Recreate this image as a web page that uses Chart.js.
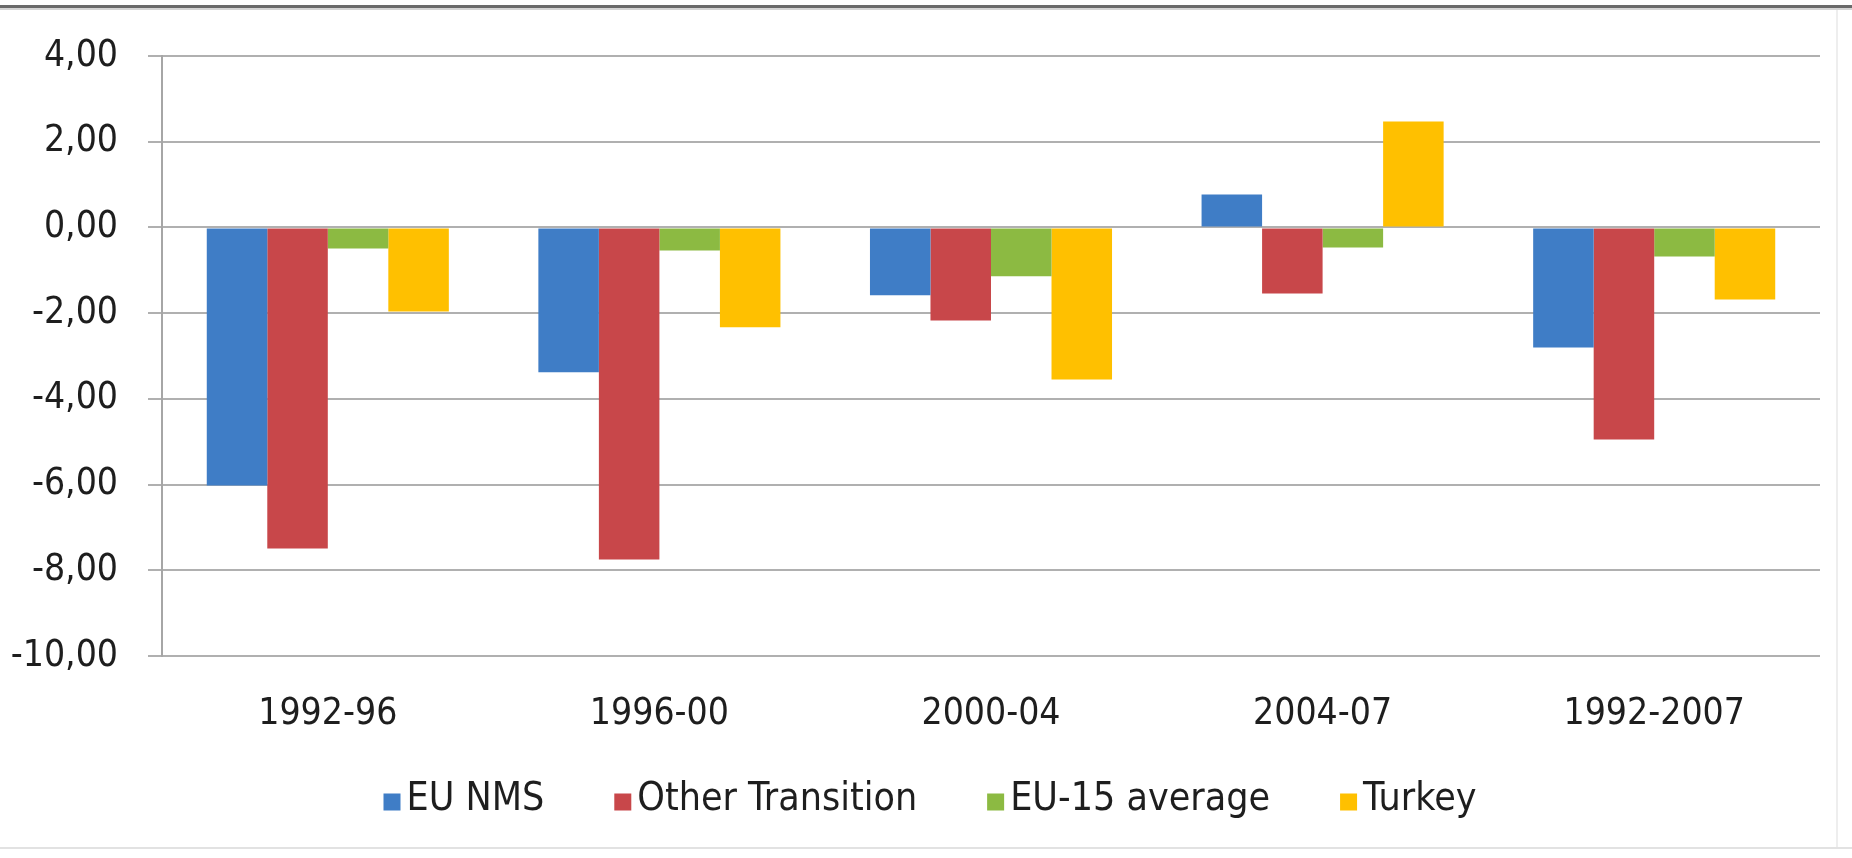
<!DOCTYPE html>
<html>
<head>
<meta charset="utf-8">
<script src="https://cdn.jsdelivr.net/npm/chart.js@4.4.1/dist/chart.umd.min.js"></script>
<style>
  html, body { margin: 0; padding: 0; background: #ffffff; }
  #wrap { position: relative; width: 1852px; height: 858px; }
  canvas { display: block; }
</style>
</head>
<body>
<div id="wrap"><canvas id="chart" width="1852" height="858"></canvas></div>
<script>
// Periods on the category axis
const periods = ['1992-96', '1996-00', '2000-04', '2004-07', '1992-2007'];

// Values per country group, one entry per period
const euNms           = [-6.02, -3.38, -1.58,  0.77, -2.80];
const otherTransition = [-7.49, -7.75, -2.17, -1.54, -4.95];
const eu15Average     = [-0.49, -0.54, -1.14, -0.47, -0.68];
const turkey          = [-1.96, -2.33, -3.55,  2.47, -1.68];

const seriesNames  = ['EU NMS', 'Other Transition', 'EU-15 average', 'Turkey'];
const seriesValues = [euNms, otherTransition, eu15Average, turkey];
const seriesColors = ['#3f7dc6', '#c8474a', '#8cba42', '#ffc000'];

// Value axis range and step
const yMin = -10;
const yMax = 4;
const yStep = 2;

const FONT_FAMILY = "'Liberation Sans Narrow', 'DejaVu Sans Condensed', 'Liberation Sans', sans-serif";
const FONT_SIZE = 37;
const LEGEND_FONT_SIZE = 39;
const TEXT_COLOR = '#1e1e1e';

const fmt = v => v.toFixed(2).replace('.', ',');

// Page frame lines and white background
const framePlugin = {
  id: 'frame',
  beforeDraw(chart) {
    const ctx = chart.ctx;
    ctx.save();
    ctx.fillStyle = '#ffffff';
    ctx.fillRect(0, 0, chart.width, chart.height);
    ctx.fillStyle = '#6a6a6a';
    ctx.fillRect(0, 5, chart.width, 3);
    ctx.fillStyle = '#d4d4d4';
    ctx.fillRect(0, 8, chart.width, 2);
    ctx.fillStyle = '#e2e2e2';
    ctx.fillRect(0, 847, chart.width, 2);
    ctx.fillStyle = '#eeeeee';
    ctx.fillRect(1836, 10, 2, 837);
    ctx.restore();
  }
};

// Legend row below the axis: small square swatch followed by its label
const legendPlugin = {
  id: 'rowLegend',
  afterDraw(chart) {
    const ctx = chart.ctx;
    const box = 17, boxGap = 6, itemGap = 70;
    const centerX = 930, centerY = 800;
    ctx.save();
    ctx.font = `${LEGEND_FONT_SIZE}px ${FONT_FAMILY}`;
    ctx.textBaseline = 'middle';
    ctx.textAlign = 'left';
    const widths = seriesNames.map(t => ctx.measureText(t).width);
    const total = widths.reduce((a, w) => a + box + boxGap + w, 0) + itemGap * (seriesNames.length - 1);
    let x = centerX - total / 2;
    chart.data.datasets.forEach((ds, i) => {
      ctx.fillStyle = ds.backgroundColor;
      ctx.fillRect(x, centerY - box / 2 + 2, box, box);
      x += box + boxGap;
      ctx.fillStyle = TEXT_COLOR;
      ctx.fillText(ds.label, x, centerY);
      x += widths[i] + itemGap;
    });
    ctx.restore();
  }
};

const datasets = seriesNames.map((name, i) => ({
  label: name,
  data: seriesValues[i],
  backgroundColor: seriesColors[i],
  borderWidth: 0,
  categoryPercentage: 0.73,
  barPercentage: 1.0
}));

new Chart(document.getElementById('chart'), {
  type: 'bar',
  data: { labels: periods, datasets },
  options: {
    responsive: false,
    devicePixelRatio: 1,
    animation: false,
    layout: { padding: { left: 0, top: 56, right: 32, bottom: 0 } },
    plugins: {
      legend: { display: false },
      tooltip: { enabled: false }
    },
    scales: {
      x: {
        grid: { display: false, drawTicks: false },
        border: { display: false },
        ticks: {
          color: TEXT_COLOR,
          padding: 36,
          font: { family: FONT_FAMILY, size: FONT_SIZE },
          maxRotation: 0
        },
        afterFit(scale) { scale.height = 202; }
      },
      y: {
        min: yMin,
        max: yMax,
        grid: { color: '#b0b0b0', lineWidth: 2, tickLength: 14, drawTicks: true },
        border: { display: true, color: '#a6a6a6', width: 2 },
        ticks: {
          stepSize: yStep,
          color: TEXT_COLOR,
          padding: 30,
          font: { family: FONT_FAMILY, size: FONT_SIZE },
          callback: v => fmt(v)
        },
        afterFit(scale) { scale.width = 162; }
      }
    }
  },
  plugins: [framePlugin, legendPlugin]
});
</script>
</body>
</html>
